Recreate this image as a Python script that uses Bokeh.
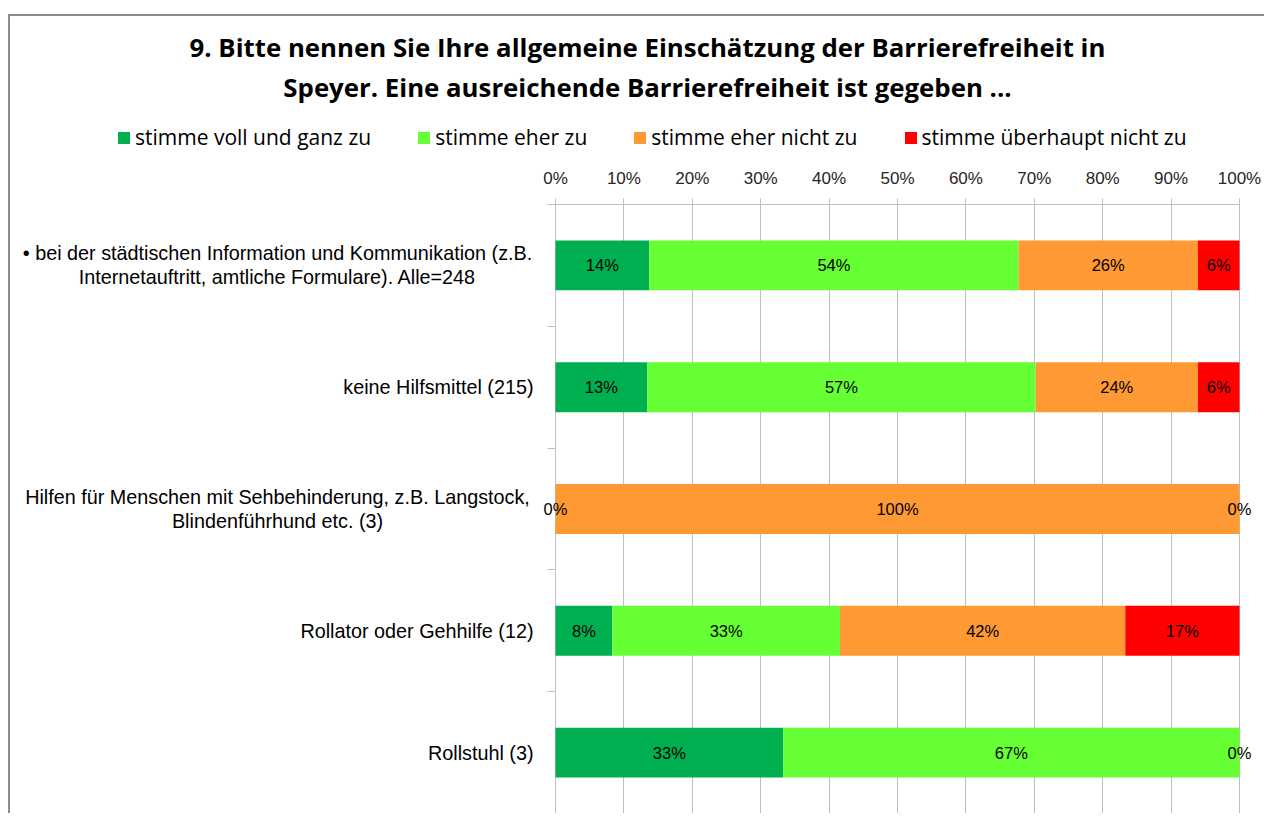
from bokeh.plotting import figure
from bokeh.layouts import column
from bokeh.models import (ColumnDataSource, Range1d, FixedTicker, LabelSet, Label,
                          Legend, LegendItem)
from bokeh.core.properties import value
from bokeh.embed import file_html
from bokeh.resources import INLINE

# ---------------- data ----------------
categories = [
    "\u2022 bei der städtischen Information und Kommunikation (z.B.\nInternetauftritt, amtliche Formulare). Alle=248",
    "keine Hilfsmittel (215)",
    "Hilfen für Menschen mit Sehbehinderung, z.B. Langstock,\nBlindenführhund etc. (3)",
    "Rollator oder Gehhilfe (12)",
    "Rollstuhl (3)",
]
series_names = ["stimme voll und ganz zu", "stimme eher zu",
                "stimme eher nicht zu", "stimme überhaupt nicht zu"]
voll = [13.7, 13.4, 0.0, 8.3, 33.3]
eher = [54.0, 56.8, 0.0, 33.3, 66.7]
eher_nicht = [26.2, 23.7, 100.0, 41.7, 0.0]
ueberhaupt_nicht = [6.1, 6.1, 0.0, 16.7, 0.0]
x_ticks = [0, 10, 20, 30, 40, 50, 60, 70, 80, 90, 100]
title_lines = ["9. Bitte nennen Sie Ihre allgemeine Einschätzung der Barrierefreiheit in",
               "Speyer. Eine ausreichende Barrierefreiheit ist gegeben ..."]

colors = ["#00B050", "#66FF33", "#FF9933", "#FF0000"]
ARIAL = "Liberation Sans"
CAL = "Open Sans"

n = len(categories)
ypos = [n - i - 0.5 for i in range(n)]
keys = ["voll", "eher", "eher_nicht", "ueberhaupt_nicht"]
src = ColumnDataSource(dict(y=ypos, voll=voll, eher=eher,
                            eher_nicht=eher_nicht, ueberhaupt_nicht=ueberhaupt_nicht))

# ---------------- layout constants (page pixels) ----------------
BW = 2                     # chart-box border width
OX, OY = 8 + BW, 14 + BW   # content origin inside the bordered box
W = 1254                   # content width
FT, FB = 204, 813          # plot frame top / bottom (page)
H1 = 160 - OY              # header height -> header ends at page y=160
PX = 6.84                  # pixels per percent; 0 % at page x=555
FL = 4                     # frame starts at page x = OX + FL

def dx(px):
    return (px - 555) / PX

# ---------------- header: title + legend ----------------
hdr = figure(width=W, height=H1, output_backend="svg", toolbar_location=None,
             x_range=Range1d(OX, OX + W), y_range=Range1d(OY + H1, OY),
             x_axis_type=None, y_axis_type=None, min_border=0)
hdr.outline_line_color = None
hdr.grid.visible = False

for txt, yc in zip(title_lines, [46, 86]):
    hdr.add_layout(Label(x=645, y=yc, text=txt, text_align="center",
                         text_baseline="middle", text_font=CAL,
                         text_font_style="bold", text_font_size="25.8px",
                         text_color="#000000"))

dummies = [hdr.hbar(y=[-1000], left=[0], right=[1], height=1, color=c, line_color=None)
           for c in colors]
leg = Legend(items=[LegendItem(label=nm, renderers=[r])
                    for nm, r in zip(series_names, dummies)],
             orientation="horizontal", location=(112 - OX, OY + H1 - 151),
             padding=0, margin=0, spacing=45, glyph_width=15, glyph_height=15,
             label_standoff=4, label_text_font=CAL, label_text_font_size="21px",
             label_text_color="#000000", border_line_color=None,
             background_fill_alpha=0)
hdr.add_layout(leg, "center")

# ---------------- main chart ----------------
p = figure(width=W, height=FB - OY - H1, output_backend="svg", toolbar_location=None,
           x_range=Range1d(dx(OX + FL), dx(OX + W)), y_range=Range1d(0, n),
           x_axis_location="above",
           min_border_left=FL, min_border_right=0,
           min_border_top=FT - OY - H1, min_border_bottom=0)
p.outline_line_color = None

p.hbar_stack(keys, y="y", height=0.41, color=colors, source=src, line_color=None)

xa = p.xaxis[0]
xa.ticker = FixedTicker(ticks=x_ticks)
xa.bounds = (0, 100)
xa.major_label_overrides = {t: f"{t}%" for t in x_ticks}
xa.axis_line_color = "#BFBFBF"
xa.major_tick_line_color = "#BFBFBF"
xa.major_tick_out = 6
xa.major_tick_in = 0
xa.minor_tick_line_color = None
xa.major_label_standoff = 11
xa.major_label_text_font = ARIAL
xa.major_label_text_font_size = "17px"
xa.major_label_text_color = "#262626"

ya = p.yaxis[0]
ya.ticker = FixedTicker(ticks=[], minor_ticks=list(range(n + 1)))
ya.axis_line_color = None
ya.major_tick_line_color = None
ya.major_tick_out = 0
ya.major_tick_in = 0
ya.major_label_standoff = 0
ya.minor_tick_line_color = "#BFBFBF"
ya.minor_tick_out = -(547 - (OX + FL))
ya.minor_tick_in = 555 - (OX + FL)

p.xgrid.ticker = FixedTicker(ticks=x_ticks)
p.xgrid.grid_line_color = "#BFBFBF"
p.ygrid.grid_line_color = None

# category labels: single lines right-aligned at the axis, two-line blocks centred
for yc, cat in zip(ypos, categories):
    multi = "\n" in cat
    p.add_layout(Label(x=dx(277) if multi else dx(533), y=yc, text=cat,
                       text_align="center" if multi else "right",
                       text_baseline="middle", text_font=ARIAL,
                       text_font_size="19.8px", text_color="#000000",
                       text_line_height=1.1))

series = [voll, eher, eher_nicht, ueberhaupt_nicht]
lx, ly, lt = [], [], []
for i in range(n):
    cum = 0.0
    seen = set()
    for s in series:
        v = s[i]
        mid = cum + v / 2.0
        cum += v
        key = round(mid, 3)
        if key in seen:
            continue
        seen.add(key)
        lx.append(mid)
        ly.append(ypos[i])
        lt.append(f"{round(v):.0f}%")
lsrc = ColumnDataSource(dict(x=lx, y=ly, t=lt))
p.add_layout(LabelSet(x="x", y="y", text="t", source=lsrc, text_align="center",
                      text_baseline="middle", text_font=value(ARIAL),
                      text_font_size=value("16.5px"), text_color="#000000"))

layout = column(hdr, p, spacing=0, margin=(14, 0, 0, 8),
                styles={"border-left": f"{BW}px solid #8C8C8C",
                        "border-top": f"{BW}px solid #8C8C8C"})
open("out.html", "w").write(file_html(layout, INLINE))
